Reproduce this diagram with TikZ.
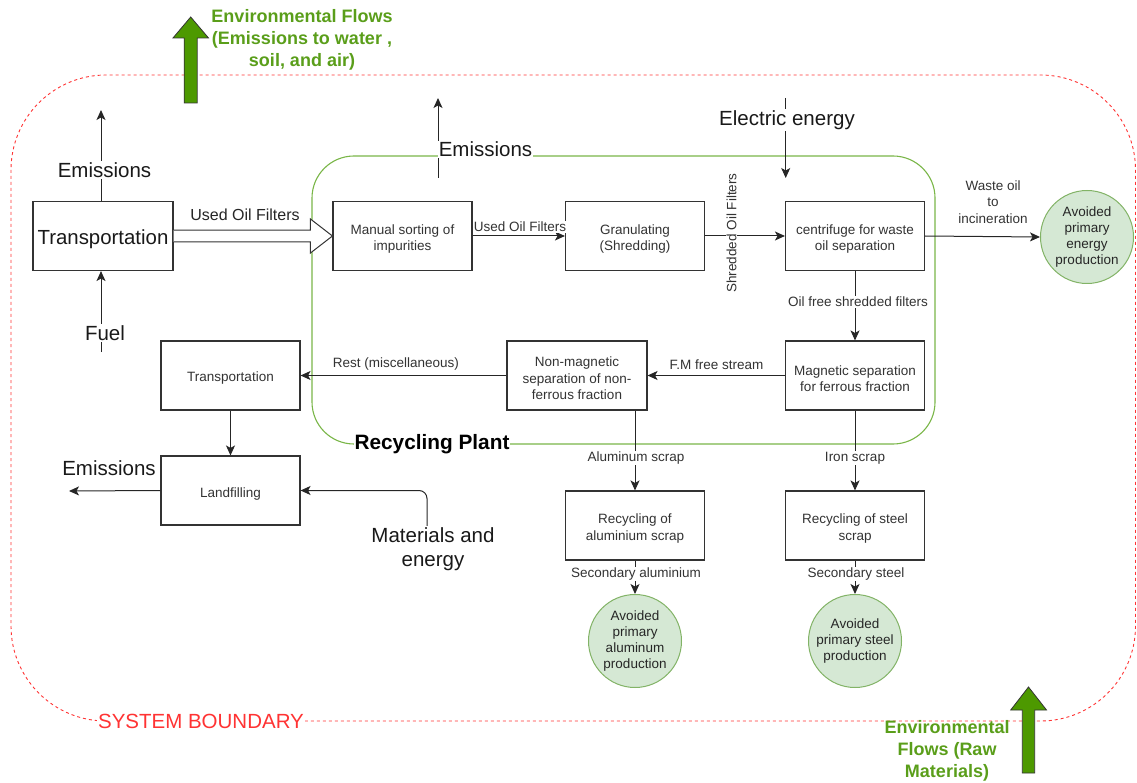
\documentclass[tikz,border=0pt]{standalone}
\usepackage{fontspec}
\setmainfont{Liberation Sans}
\usetikzlibrary{arrows.meta,calc}
\definecolor{bred}{HTML}{FF3333}
\definecolor{pgreen}{HTML}{7AB648}
\definecolor{cfill}{HTML}{D5E8D4}
\definecolor{cline}{HTML}{82B366}
\definecolor{garrow}{HTML}{4D9900}
\definecolor{gtxt}{HTML}{5A9E1A}
\newcommand{\setfs}[2]{\fontsize{#1}{#2}\selectfont}
\newcommand{\bst}{\rule{0pt}{15.8pt}}
\begin{document}
\begin{tikzpicture}[x=1pt,y=-1pt,
  box/.style={draw=black!80, line width=1.1pt, fill=white, minimum width=139pt, minimum height=69pt, inner sep=2pt, align=center, font=\setfs{13.5}{16.5}, text=black!80},
  circ/.style={circle, draw=cline, fill=cfill, minimum size=93pt, inner sep=0pt, align=center, font=\setfs{13.5}{16}, text=black!85, line width=1pt},
  arr/.style={draw=black!85, line width=1pt, -{Stealth[length=10pt,width=9pt,inset=2.5pt]}},
  lab/.style={fill=white, inner sep=1pt, font=\setfs{13.5}{16.5}, text=black!80, align=center},
  big/.style={fill=white, inner sep=1pt, font=\setfs{20.5}{24}, text=black!90, align=center},
  gtext/.style={font=\bfseries\setfs{18}{22}, text=gtxt, align=center}]
\useasboundingbox (0,0) rectangle (1137,783);

% system boundary
\draw[bred, line width=0.9pt, dash pattern=on 3pt off 3pt, rounded corners=95pt] (11,75) rectangle (1135.5,721);
\node[fill=white, inner sep=1pt, text=bred, font=\setfs{20.5}{24}] (sb) at (201,721) {SYSTEM BOUNDARY};

% recycling plant
\draw[pgreen, line width=1.1pt, rounded corners=42pt] (312,156) rectangle (935,444);
\node[fill=white, inner sep=1pt, font=\bfseries\setfs{20.8}{24}, text=black] (rp) at (432,444) {Recycling Plant};

% green block arrows
\filldraw[fill=garrow, draw=black!80, line width=0.8pt] (184.2,103) -- (184.2,38) -- (173,38) -- (190.7,17) -- (208.5,38) -- (197.2,38) -- (197.2,103) -- cycle;
\node[gtext] (envtop) at (302,40) {Environmental Flows\\(Emissions to water ,\\soil, and air)};
\filldraw[fill=garrow, draw=black!80, line width=0.8pt] (1022.3,773) -- (1022.3,710) -- (1010.7,710) -- (1028.5,687) -- (1046.5,710) -- (1034.7,710) -- (1034.7,773) -- cycle;
\node[gtext] (envbot) at (947,751) {Environmental\\Flows (Raw\\Materials)};

% boxes
\node[box, minimum width=140pt, font=\setfs{20.4}{24}, text=black!90] (T1) at (103,236) {\rule{0pt}{20.6pt}Transportation};
\node[box] (MS) at (402.5,236) {\bst Manual sorting of\\impurities};
\node[box] (GR) at (635,236) {\bst Granulating\\(Shredding)};
\node[box] (CF) at (855,236) {\bst centrifuge for waste\\oil separation};
\node[box] (MG) at (855,375.5) {\bst Magnetic separation\\for ferrous fraction};
\node[box, minimum width=140pt] (NM) at (577,375.5) {\bst Non-magnetic\\separation of non-\\ferrous fraction};
\node[box] (T2) at (230.5,375.5) {\bst Transportation};
\node[box] (LF) at (230.5,490.5) {\bst Landfilling};
\node[box] (RA) at (635,525.5) {\bst Recycling of\\aluminium scrap};
\node[box] (RS) at (855,525.5) {\bst Recycling of steel\\scrap};

% circles
\node[circ] (C1) at (1087,237) {Avoided\\primary\\energy\\production};
\node[circ] (C2) at (635,641) {Avoided\\primary\\aluminum\\production};
\node[circ] (C3) at (855,641) {Avoided\\primary steel\\production};

% flex arrow Transportation -> Manual sorting
\draw[draw=black!80, line width=1pt, fill=white]
  ([yshift=5.8pt]T1.east) -- ([xshift=-22pt,yshift=5.8pt]MS.west) -- ([xshift=-22pt,yshift=17pt]MS.west) -- (MS.west)
  -- ([xshift=-22pt,yshift=-17pt]MS.west) -- ([xshift=-22pt,yshift=-5.8pt]MS.west) -- ([yshift=-5.8pt]T1.east);
\node[fill=white, inner sep=1pt, font=\setfs{16}{19}, text=black!85] (uof1) at (245,215) {Used Oil Filters};

% emissions from transportation
\coordinate (em1) at (101,110);
\draw[arr] ([xshift=-2pt]T1.north) -- (em1);
\node[big] (em1l) at (104.5,170) {Emissions};
% fuel
\coordinate (fuel) at (101,352);
\draw[arr] (fuel) -- ([xshift=-2pt]T1.south);
\node[big] (fuell) at (105,333) {Fuel};

% plant emissions
\coordinate (em2a) at (438,178);
\coordinate (em2b) at (438,98);
\draw[arr] (em2a) -- (em2b);
\node[big, anchor=base] (em2l) at (485.5,157) {Emissions};

% electric energy
\coordinate (ee1) at (785.7,98);
\coordinate (ee2) at (785.7,178);
\draw[arr] (ee1) -- (ee2);
\node[big] (eel) at (787,120) {Electric energy};

% main flows
\draw[arr] (MS.east) -- (GR.west);
\node[lab] (uof2) at (520,227) {Used Oil Filters};
\draw[arr] (GR.east) -- (CF.west);
\node[lab, rotate=90] (sof) at (731.5,233) {Shredded Oil Filters};
\draw[arr] (CF.east) -- (C1.west);
\node[lab, fill=none] (wo) at (993,202) {Waste oil\\to\\incineration};
\draw[arr] (CF.south) -- (MG.north);
\node[lab] (off) at (858,302) {Oil free shredded filters};
\draw[arr] (MG.west) -- (NM.east);
\node[lab] (fm) at (716.5,365) {F.M free stream};
\draw[arr] (NM.west) -- (T2.east);
\node[lab] (rest) at (396,364) {Rest (miscellaneous)};
\draw[arr] (T2.south) -- (LF.north);
\coordinate (em3) at (69,491);
\draw[arr] (LF.west) -- (em3);
\node[big, fill=none] (em3l) at (109,468) {Emissions};
\coordinate (me) at (427,545);
\draw[arr, rounded corners=8pt] (me) -- (me |- LF.east) -- (LF.east);
\node[big] (mel) at (433,549) {Materials and\\energy};

\draw[arr] (NM.south -| RA.north) -- (RA.north);
\node[lab] (als) at (636,458) {Aluminum scrap};
\draw[arr] (MG.south) -- (RS.north);
\node[lab] (irs) at (855,458) {Iron scrap};
\draw[arr] (RA.south) -- (C2.north);
\node[lab] (sal) at (636,574) {Secondary aluminium};
\draw[arr] (RS.south) -- (C3.north);
\node[lab] (sst) at (856,574) {Secondary steel};
\end{tikzpicture}
\end{document}
